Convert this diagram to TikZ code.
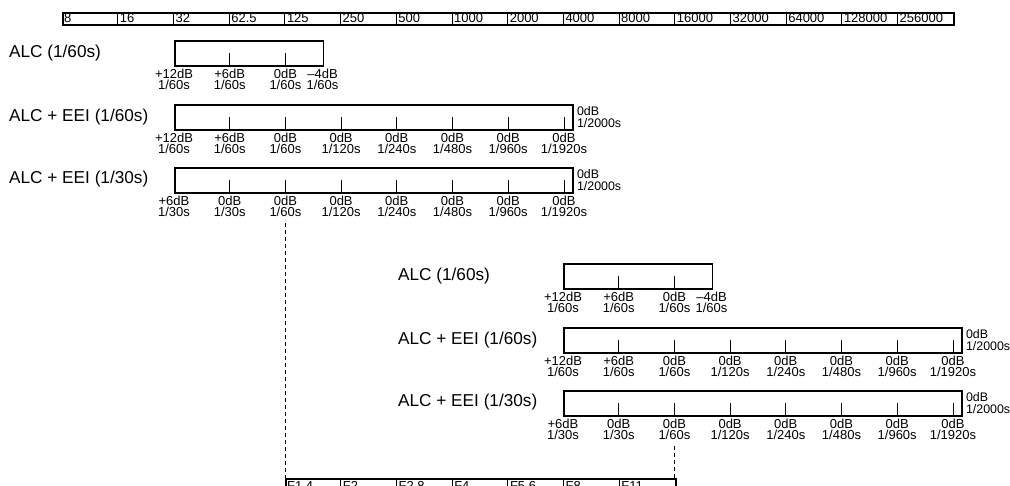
\documentclass[tikz,border=0pt]{standalone}
\usepackage{fontspec}
\setmainfont{Liberation Sans}
\begin{document}
\begin{tikzpicture}[x=1pt,y=-1pt,
  big/.style={font=\fontsize{17.2}{20}\selectfont, inner sep=0pt, anchor=west},
  small/.style={font=\fontsize{13}{14}\selectfont, inner sep=0pt},
  rlabel/.style={font=\fontsize{12.4}{14}\selectfont, inner sep=0pt, anchor=west},
  frame/.style={draw, line width=1.6pt},
  tickline/.style={line width=0.8pt},
  dashline/.style={line width=0.8pt, dash pattern=on 4pt off 3pt, shorten <=6pt}]
\useasboundingbox (0,0) rectangle (1010,486);
\clip (0,0) rectangle (1010,486);
\def\cw{55.7}
% top frequency scale
\node[frame, anchor=north west, minimum width=891pt, minimum height=12pt, inner sep=0pt] (scale) at (62,12) {};
\foreach \i in {1,...,15} \draw[tickline] ({62+\i*\cw},12) -- ({62+\i*\cw},24);
\foreach \t [count=\i from 0] in {8,16,32,62.5,125,250,500,1000,2000,4000,8000,16000,32000,64000,128000,256000}
  \node[small, anchor=west] (s\i) at ({62+\i*\cw+2},18.5) {\t};
% groups
\foreach \g/\gx/\gy in {1/0/0, 2/389/223}{
  % row 1: ALC
  \node[big] (g\g r1name) at ({9+\gx},{53+\gy}) {ALC (1/60s)};
  \node[frame, anchor=north west, minimum width={2.667*\cw*1pt}, minimum height=25pt, inner sep=0pt] (g\g r1box) at ({174+\gx},{40+\gy}) {};
  \foreach \p in {1,2} \draw[tickline] ({174+\gx+\p*\cw},{53+\gy}) -- ({174+\gx+\p*\cw},{65+\gy});
  \foreach \p/\a/\b [count=\i] in {0/+12dB/60, 1/+6dB/60, 2/0dB/60, 2.667/--4dB/60}{
    \node[small] (g\g r1t\i) at ({174+\gx+\p*\cw},{74+\gy}) {\a};
    \node[small] (g\g r1b\i) at ({174+\gx+\p*\cw},{85+\gy}) {1/\b s};
  }
  % row 2: ALC + EEI (1/60s)
  \node[big] (g\g r2name) at ({9+\gx},{117+\gy}) {ALC + EEI (1/60s)};
  \node[frame, anchor=north west, minimum width={7.15*\cw*1pt}, minimum height=25pt, inner sep=0pt] (g\g r2box) at ({174+\gx},{104+\gy}) {};
  \foreach \p in {1,...,7} \draw[tickline] ({174+\gx+\p*\cw},{117+\gy}) -- ({174+\gx+\p*\cw},{129+\gy});
  \foreach \p/\a/\b [count=\i] in {0/+12dB/60, 1/+6dB/60, 2/0dB/60, 3/0dB/120, 4/0dB/240, 5/0dB/480, 6/0dB/960, 7/0dB/1920}{
    \node[small] (g\g r2t\i) at ({174+\gx+\p*\cw},{138+\gy}) {\a};
    \node[small] (g\g r2b\i) at ({174+\gx+\p*\cw},{149+\gy}) {1/\b s};
  }
  \node[rlabel] (g\g r2ra) at ([xshift=3pt]g\g r2box.east |- 0,{111.5+\gy}) {0dB};
  \node[rlabel] (g\g r2rb) at ([xshift=3pt]g\g r2box.east |- 0,{123+\gy}) {1/2000s};
  % row 3: ALC + EEI (1/30s)
  \node[big] (g\g r3name) at ({9+\gx},{179+\gy}) {ALC + EEI (1/30s)};
  \node[frame, anchor=north west, minimum width={7.15*\cw*1pt}, minimum height=25pt, inner sep=0pt] (g\g r3box) at ({174+\gx},{167+\gy}) {};
  \foreach \p in {1,...,7} \draw[tickline] ({174+\gx+\p*\cw},{180+\gy}) -- ({174+\gx+\p*\cw},{192+\gy});
  \foreach \p/\a/\b [count=\i] in {0/+6dB/30, 1/0dB/30, 2/0dB/60, 3/0dB/120, 4/0dB/240, 5/0dB/480, 6/0dB/960, 7/0dB/1920}{
    \node[small] (g\g r3t\i) at ({174+\gx+\p*\cw},{201+\gy}) {\a};
    \node[small] (g\g r3b\i) at ({174+\gx+\p*\cw},{212+\gy}) {1/\b s};
  }
  \node[rlabel] (g\g r3ra) at ([xshift=3pt]g\g r3box.east |- 0,{174.5+\gy}) {0dB};
  \node[rlabel] (g\g r3rb) at ([xshift=3pt]g\g r3box.east |- 0,{186+\gy}) {1/2000s};
}
% bottom F-number scale
\node[frame, anchor=north west, minimum width=390pt, minimum height=30pt, inner sep=0pt] (fscale) at (285,478) {};
\foreach \i in {1,...,6} \draw[tickline] ({285+\i*\cw},478) -- ({285+\i*\cw},500);
\foreach \t [count=\i from 0] in {F1.4,F2,F2.8,F4,F5.6,F8,F11}
  \node[small, anchor=north west] (f\i) at ({285+\i*\cw+2},481) {\t};
% dashed connectors
\coordinate (fl) at (285,478);
\coordinate (fr) at (675,478);
\draw[dashline] (g1r3b3.south) -- (g1r3b3.south |- fl);
\draw[dashline] (g2r3b3.south) -- (g2r3b3.south |- fr);
\end{tikzpicture}
\end{document}
